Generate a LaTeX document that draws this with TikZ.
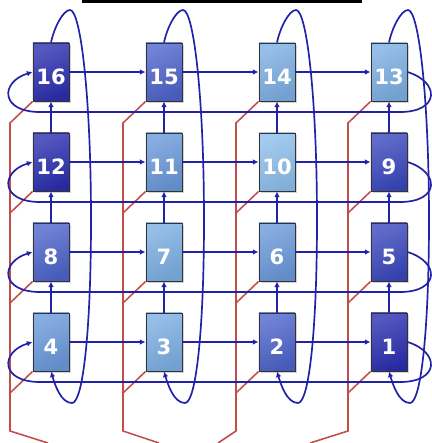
\documentclass[tikz,border=0pt]{standalone}
\usepackage{fontspec}
\setsansfont{DejaVu Sans}
\usepackage{xcolor}
\usepackage{tikz}
\usetikzlibrary{arrows.meta,shadows}
\definecolor{linkblue}{RGB}{34,34,168}
\definecolor{busred}{RGB}{192,78,72}
\definecolor{peDark}{HTML}{2B2FAE}
\definecolor{peDeep}{HTML}{3A48BC}
\definecolor{peMid}{HTML}{4D64CA}
\definecolor{peSoft}{HTML}{6A98DA}
\definecolor{peLight}{HTML}{7CAEE2}
\definecolor{pePale}{HTML}{8DBEEA}
\tikzset{
  pe/.style={draw=black!80, line width=0.7pt, minimum width=0.9cm, minimum height=1.45cm, inner sep=0pt,
    top color=#1!80!white, bottom color=#1!92!black, shading angle=25,
    drop shadow={shadow xshift=1.3pt, shadow yshift=-1.3pt, opacity=0.35},
    text=white, font=\sffamily\bfseries\fontsize{15}{15}\selectfont, text height=18pt, text depth=0pt},
  link/.style={-{Latex[length=4pt,width=4pt]}, line width=1.4pt, linkblue},
  wrap/.style={-{Latex[length=4pt,width=4pt]}, line width=1.2pt, linkblue},
  bus/.style={line width=1.1pt, busred},
}

\begin{document}
\begin{tikzpicture}[x=0.025cm, y=-0.025cm]
\useasboundingbox (0,0) rectangle (432,443);
\fill (82,0) rectangle (362,3);
\node[pe=peDark]  (n16) at (51,72)   {16};
\node[pe=peMid]   (n15) at (164,72)  {15};
\node[pe=peLight] (n14) at (277,72)  {14};
\node[pe=peLight] (n13) at (389,72)  {13};
\node[pe=peDark]  (n12) at (51,162)  {12};
\node[pe=peSoft]  (n11) at (164,162) {11};
\node[pe=pePale]  (n10) at (277,162) {10};
\node[pe=peDeep]  (n9)  at (389,162) {9};
\node[pe=peMid]   (n8)  at (51,252)  {8};
\node[pe=peLight] (n7)  at (164,252) {7};
\node[pe=peSoft]  (n6)  at (277,252) {6};
\node[pe=peDeep]  (n5)  at (389,252) {5};
\node[pe=peSoft]  (n4)  at (51,342)  {4};
\node[pe=peLight] (n3)  at (164,342) {3};
\node[pe=peMid]   (n2)  at (277,342) {2};
\node[pe=peDark]  (n1)  at (389,342) {1};
\foreach \t/\m/\u/\b/\x/\d in {16/12/8/4/51/38, 15/11/7/3/164/36, 14/10/6/2/277/-18, 13/9/5/1/389/-38}{
  \draw[bus] (n\t.south west) -- (\x-41,123) -- (\x-41,431) -- (\x-41+\d,443);
  \foreach \n/\y in {\m/213, \u/303, \b/393}
    \draw[bus] (n\n.south west) -- (\x-41,\y);
}
\foreach \a/\b in {16/15, 15/14, 14/13, 12/11, 11/10, 10/9, 8/7, 7/6, 6/5, 4/3, 3/2, 2/1}
  \draw[link] (n\a) -- (n\b);
\foreach \a/\b in {12/16, 8/12, 4/8, 11/15, 7/11, 3/7, 10/14, 6/10, 2/6, 9/13, 5/9, 1/5}
  \draw[link] (n\a) -- (n\b);
\foreach \l/\r/\y in {16/13/72, 12/9/162, 8/5/252, 4/1/342}
  \draw[wrap] (n\r.east) .. controls (440,\y+10) and (440,\y+40) .. (400,\y+40) -- (40,\y+40)
    .. controls (0,\y+40) and (0,\y+10) .. (n\l.west);
\foreach \t/\b/\x in {16/4/51, 15/3/164, 14/2/277, 13/1/389}
  \draw[wrap] (n\t.north) .. controls (\x+3,28) and (\x+12,10) .. (\x+19,10)
    .. controls (\x+30,10) and (\x+40,100) .. (\x+40,220)
    .. controls (\x+40,330) and (\x+32,403) .. (\x+21,403)
    .. controls (\x+10,403) and (\x+4,385) .. (n\b.south);
\end{tikzpicture}
\end{document}
